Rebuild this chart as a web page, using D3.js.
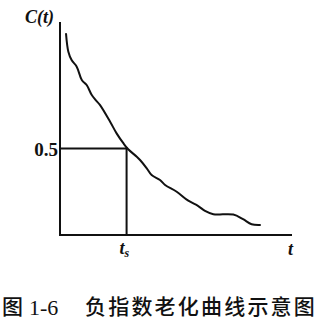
<!DOCTYPE html>
<html lang='zh'>
  <head>
    <meta charset='utf-8'>
    <style type='text/css'>
      body {margin: 0; background-color: #fff;}
      #chart {width: 325px; height: 322px;}
      .serif {font-family: 'Liberation Serif', 'DejaVu Serif', serif; fill: #111;}
      .cjk {font-family: 'Noto Sans CJK SC', sans-serif; fill: #111;}
    </style>
  </head>
  <body>

    <div id='chart'>
      <svg width='325' height='322'></svg>
    </div>

    <script src='https://d3js.org/d3.v7.min.js'></script>
    <script type='text/javascript'>
        // curve (t in arbitrary units, C(t) relative)
        var tValues = [2.6, 3.6, 5.0, 7.2, 9.4, 11.5, 13.7, 15.4, 17.2, 21.6, 24.4, 27.3,
                       29.4, 33.1, 34.5, 37.4, 39.5, 43.1, 45.3, 50.3, 55.3, 59.6, 62.5,
                       66.1, 74.7, 78.9, 82.6, 86.2];
        var cValues = [1.161, 1.058, 1.010, 0.972, 0.895, 0.866, 0.808, 0.779, 0.751, 0.654,
                       0.587, 0.530, 0.495, 0.452, 0.433, 0.385, 0.346, 0.318, 0.289, 0.250,
                       0.198, 0.167, 0.139, 0.120, 0.118, 0.091, 0.062, 0.058];
        var yTicks = [0.5];
        var tS = 28.7;
        var caption = ["图", "1-6", "负指数老化曲线示意图"];

        var svg = d3.select("#chart svg");

        var x = d3.scaleLinear().domain([0, 100]).range([60, 292]);
        var y = d3.scaleLinear().domain([0, 1.23]).range([235, 22]);

        var data = tValues.map(function(t, i) { return {t: t, c: cValues[i]}; });

        // axes (plain lines, no ticks)
        var g = svg.append("g")
            .attr("stroke", "#111")
            .attr("stroke-width", 2)
            .attr("fill", "none");

        g.append("path")
            .attr("d", "M" + x(0) + "," + y(1.23) + "V" + y(0) + "H" + x(100));

        // 0.5 guide box
        g.append("path")
            .attr("d", "M" + x(0) + "," + y(yTicks[0]) + "H" + x(tS) + "V" + y(0));

        // curve
        var line = d3.line()
            .x(function(d) { return x(d.t); })
            .y(function(d) { return y(d.c); })
            .curve(d3.curveCatmullRom);

        g.append("path")
            .datum(data)
            .attr("stroke-linejoin", "round")
            .attr("stroke-linecap", "round")
            .attr("d", line);

        // labels
        svg.append("text")
            .attr("class", "serif")
            .attr("x", x(0) - 35)
            .attr("y", 23)
            .attr("font-size", 18)
            .attr("font-style", "italic")
            .attr("font-weight", "bold")
            .text("C(t)");

        svg.selectAll(".ytick")
            .data(yTicks)
            .enter().append("text")
            .attr("class", "serif ytick")
            .attr("x", x(0) - 2)
            .attr("y", function(d) { return y(d) + 7.5; })
            .attr("text-anchor", "end")
            .attr("font-size", 19)
            .attr("font-weight", "bold")
            .text(function(d) { return d; });

        var ts = svg.append("text")
            .attr("class", "serif")
            .attr("x", x(tS) - 7)
            .attr("y", 254)
            .attr("font-size", 18)
            .attr("font-style", "italic")
            .attr("font-weight", "bold");
        ts.append("tspan").text("t");
        ts.append("tspan").attr("font-size", 12).attr("dy", 3).text("s");

        svg.append("text")
            .attr("class", "serif")
            .attr("x", x(100) - 4)
            .attr("y", 255)
            .attr("font-size", 18)
            .attr("font-style", "italic")
            .attr("font-weight", "bold")
            .text("t");

        // caption
        svg.append("text")
            .attr("class", "cjk")
            .attr("x", 2)
            .attr("y", 314)
            .attr("font-size", 21)
            .attr("font-weight", 500)
            .text(caption[0]);
        svg.append("text")
            .attr("class", "serif")
            .attr("x", 29)
            .attr("y", 315)
            .attr("font-size", 22)
            .text(caption[1]);
        svg.append("text")
            .attr("class", "cjk")
            .attr("x", 85)
            .attr("y", 314)
            .attr("font-size", 21)
            .attr("font-weight", 500)
            .attr("letter-spacing", 2.2)
            .text(caption[2]);
    </script>
  </body>
</html>
